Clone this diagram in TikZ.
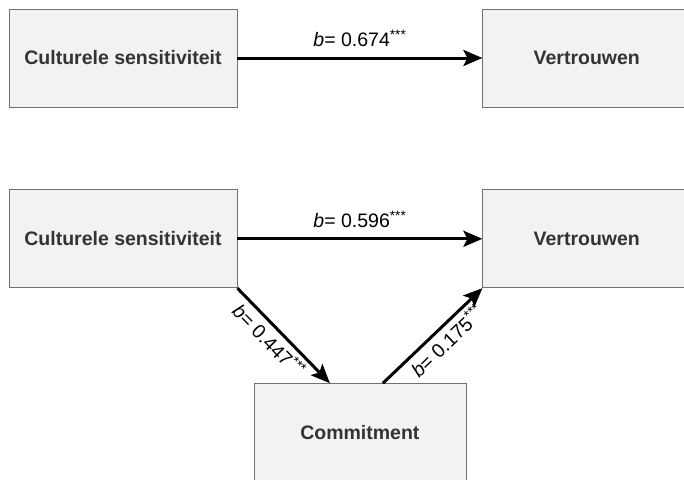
\documentclass[tikz,border=0pt]{standalone}
\usepackage{fontspec}
\setmainfont{Liberation Sans}
\usetikzlibrary{arrows.meta}
\usetikzlibrary{positioning}
\definecolor{boxfill}{HTML}{F2F2F2}
\definecolor{boxline}{HTML}{707070}
\definecolor{boxtext}{HTML}{333333}

\begin{document}
\begin{tikzpicture}[
				node distance=5mm,
				arrow/.style={line width=3pt, -{Stealth[length=19pt, width=16pt, inset=4pt]}},
				block/.style={draw=boxline, line width=0.8pt, fill=boxfill, text=boxtext, font=\fontsize{19.5}{22}\selectfont\bfseries, minimum width=228pt, minimum height=98pt},
				coef/.style={font=\fontsize{19.5}{22}\selectfont},
			]
				\useasboundingbox (0,0) rectangle (684pt,-479pt);

				\node[block] (culture) at (123pt,-58pt) {Culturele sensitiviteit};
				\node[block, minimum width=208pt, right=245pt of culture] (trust) {Vertrouwen};
				\node[block, below=82pt of culture] (culturemed) {Culturele sensitiviteit};
				\node[block, minimum width=208pt, right=245pt of culturemed] (trustmed) {Vertrouwen};

				\path (culturemed.south east) -- (trustmed.south west) node[midway, below=95pt, block, minimum width=212pt] (commitment) {Commitment};

				\coordinate (commitin) at ([xshift=-30pt]commitment.north);
				\coordinate (commitout) at ([xshift=23pt]commitment.north);

				\draw[arrow] (culture) -- (trust) node[midway, above=6pt, coef] {\textit{b}= 0.674\textsuperscript{***}};
				\draw[arrow] (culturemed) -- (trustmed) node[midway, above=6pt, coef] {\textit{b}= 0.596\textsuperscript{***}};

				\draw[arrow] (culturemed.south east) -- (commitin) node[pos=0.45, sloped, below, coef] {\textit{b}= 0.447\textsuperscript{***}};
				\draw[arrow] (commitout) -- (trustmed.south west) node[pos=0.55, sloped, below, coef] {\textit{b}= 0.175\textsuperscript{***}};
			\end{tikzpicture}
\end{document}
